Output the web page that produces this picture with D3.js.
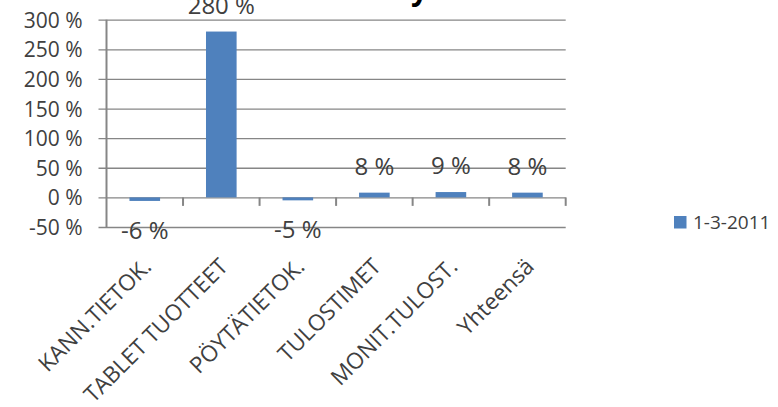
<!DOCTYPE html>
<html><head><meta charset="utf-8">
<script src="https://cdn.jsdelivr.net/npm/d3@7"></script>
<style>html,body{margin:0;padding:0;background:#fff;}svg{display:block;}</style>
</head><body>
<svg id="chart" width="778" height="407"></svg>
<script>
const categories = ["KANN.TIETOK.", "TABLET TUOTTEET", "PÖYTÄTIETOK.", "TULOSTIMET", "MONIT.TULOST.", "Yhteensä"];
const values = [-6, 280, -5, 8, 9, 8];
const valueLabels = ["-6 %", "280 %", "-5 %", "8 %", "9 %", "8 %"];
const yTicks = [-50, 0, 50, 100, 150, 200, 250, 300];
const seriesName = "1-3-2011";
const titleText = "y";

(function () {
const svg = d3.select("#chart");
const font = "'Open Sans', sans-serif";
const textColor = "#404040";
const gridColor = "#868686";
const barColor = "#4F81BD";

const pLeft = 106.5, pRight = 565.7, pTop = 19.7, pBottom = 227;
const x = d3.scaleBand().domain(categories).range([pLeft, pRight]).paddingInner(0.6).paddingOuter(0.3);
const y = d3.scaleLinear().domain([-50, 300]).range([pBottom, pTop]);

// title (mostly cut off at top)
svg.append("text").attr("x", 411).attr("y", 0).attr("font-family", font).attr("font-weight", "bold")
  .attr("font-size", 30).attr("fill", "#000").text(titleText);

// gridlines + y axis
const yAxis = d3.axisLeft(y).tickValues(yTicks).tickSizeOuter(0).tickFormat(d => d + " %");
const gy = svg.append("g").attr("transform", `translate(${pLeft},0)`).call(yAxis);
gy.select(".domain").remove();
gy.selectAll(".tick line").attr("x1", -8).attr("x2", pRight - pLeft).attr("stroke", gridColor).attr("stroke-width", 1.3);
gy.selectAll(".tick text").attr("x", -24).attr("dy", "0.36em").attr("font-family", font)
  .attr("font-size", 21).attr("fill", textColor).attr("text-anchor", "end");

// vertical axis line
svg.append("line").attr("x1", pLeft).attr("x2", pLeft).attr("y1", y(300)).attr("y2", y(-50))
  .attr("stroke", gridColor).attr("stroke-width", 2);

// bars
svg.append("g").selectAll("rect").data(values).join("rect")
  .attr("x", (d, i) => x(categories[i]))
  .attr("width", x.bandwidth())
  .attr("y", d => y(Math.max(0, d)))
  .attr("height", d => Math.abs(y(d) - y(0)))
  .attr("fill", barColor);

// category tick marks on zero line
const step = x.step();
const x0 = x(categories[0]) - x.paddingOuter() * step;
const bounds = d3.range(categories.length + 1).map(i => x0 + i * step);
svg.append("g").selectAll("line").data(bounds.slice(1)).join("line")
  .attr("x1", d => d).attr("x2", d => d).attr("y1", y(0)).attr("y2", y(0) + 8.5)
  .attr("stroke", gridColor).attr("stroke-width", 2);

// value labels
svg.append("g").selectAll("text").data(values).join("text")
  .attr("x", (d, i) => x(categories[i]) + x.bandwidth() / 2)
  .attr("y", d => d >= 0 ? y(d) - 18 : y(d) + 38)
  .attr("text-anchor", "middle").attr("font-family", font).attr("font-size", 24).attr("fill", textColor)
  .text((d, i) => valueLabels[i]);

// category labels
svg.append("g").selectAll("text").data(categories).join("text")
  .attr("transform", d => `translate(${x(d) + x.bandwidth() / 2 + 8},${268}) rotate(-45)`)
  .attr("text-anchor", "end").attr("font-family", font).attr("font-size", 22.5).attr("fill", textColor)
  .text(d => d);

// legend
const lg = svg.append("g").attr("transform", "translate(674,216)");
lg.append("rect").attr("width", 12.5).attr("height", 12.5).attr("fill", barColor);
lg.append("text").attr("x", 19).attr("y", 13).attr("font-family", font).attr("font-size", 19)
  .attr("fill", textColor).text(seriesName);
})();
</script>
</body></html>
